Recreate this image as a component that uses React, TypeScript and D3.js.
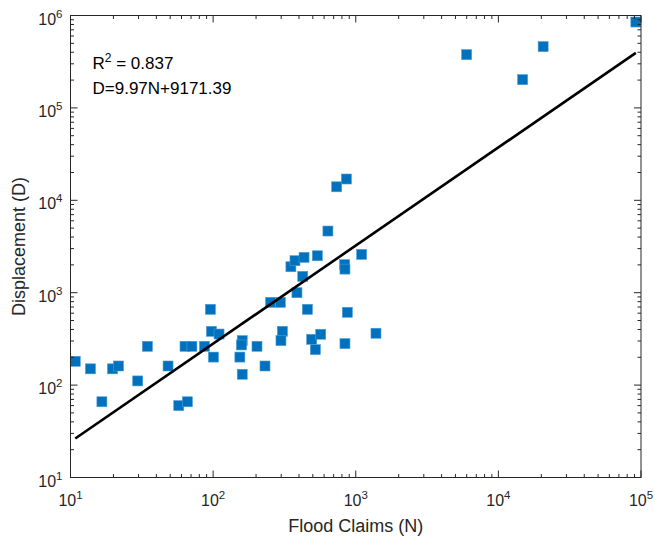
import React from 'react';
import * as d3 from 'd3';

// flood claims (N) and displacement (D)
const claims = [
    10.8, 13.8, 16.6, 19.7, 21.7, 29.6, 34.6, 48.3, 57.4, 66, 63.5, 71, 86.9, 95.7, 97.3, 110, 100.5,
    154, 160, 158, 203, 160, 231, 253, 296, 306, 299, 387, 351, 375, 434, 425, 538, 458, 491, 568, 521,
    638, 735, 860, 836, 840, 873, 840, 1100, 1386, 5990, 14800, 20600, 92000
];
const displacement = [
    181, 150, 66, 150, 161, 111, 263, 161, 60, 66, 263, 263, 263, 661, 382, 357, 201,
    201, 303, 272, 263, 131, 161, 787, 787, 382, 303, 1000, 1910, 2220, 2415, 1503, 2510, 661, 313, 355, 242,
    4650, 14000, 17000, 2010, 1800, 614, 281, 2600, 364, 377000, 202000, 460000, 850000
];

const xExponents = [1, 2, 3, 4, 5];
const yExponents = [1, 2, 3, 4, 5, 6];

// fitted line as drawn (power law in log-log space)
const fitA = 2.11;
const fitB = 1.062;

const rSquared = '0.837';
const equation = 'D=9.97N+9171.39';

const font = 'Liberation Sans, Arial, Helvetica, sans-serif';
const axisColor = '#262626';

export default function App() {

    const width = 655, height = 540;
    const margin = { top: 15.5, right: 14, bottom: 62.5, left: 70.5 };
    const plotW = width - margin.left - margin.right;
    const plotH = height - margin.top - margin.bottom;

    const xScale = d3.scaleLog().domain([10, 1e5]).range([0, plotW]);
    const yScale = d3.scaleLog().domain([10, 1e6]).range([plotH, 0]);

    const minors = (exps: number[]) => {
        const out: number[] = [];
        exps.slice(0, -1).forEach(e => {
            for (let m = 2; m <= 9; m++) out.push(m * Math.pow(10, e));
        });
        return out;
    };
    const xMinor = minors(xExponents);
    const yMinor = minors(yExponents);

    const points = claims.map((n, i) => ({ n, d: displacement[i] }));
    const nExtent = d3.extent(claims) as [number, number];
    const fitData = nExtent.map(n => ({ n, d: fitA * Math.pow(n, fitB) }));
    const line = d3.line<{ n: number, d: number }>()
        .x(p => xScale(p.n))
        .y(p => yScale(p.d));

    const majorLen = 7, minorLen = 3.5;
    const markerSize = 10;

    return <div>
        <svg width={width} height={height} style={{ position: 'absolute', left: 0, top: 0, background: '#fff' }}
            fontFamily={font}>
            <g transform={"translate(" + margin.left + "," + margin.top + ")"}>

                {points.map((p, i) =>
                    <rect key={i}
                        x={xScale(p.n) - markerSize / 2}
                        y={yScale(p.d) - markerSize / 2}
                        width={markerSize} height={markerSize}
                        fill="#0072BD" stroke="#4d9bd6" strokeWidth={0.6} />
                )}

                <path d={line(fitData) || ''} fill="none" stroke="#000" strokeWidth={2.6} />

                {/* box */}
                <rect x={0} y={0} width={plotW} height={plotH} fill="none" stroke={axisColor} strokeWidth={1} />

                {/* x ticks, bottom and top */}
                {xExponents.map(e => {
                    const x = xScale(Math.pow(10, e));
                    return <g key={'xM' + e} stroke={axisColor}>
                        <line x1={x} x2={x} y1={plotH} y2={plotH - majorLen} />
                        <line x1={x} x2={x} y1={0} y2={majorLen} />
                    </g>
                })}
                {xMinor.map(v => {
                    const x = xScale(v);
                    return <g key={'xm' + v} stroke={axisColor}>
                        <line x1={x} x2={x} y1={plotH} y2={plotH - minorLen} />
                        <line x1={x} x2={x} y1={0} y2={minorLen} />
                    </g>
                })}

                {/* y ticks, left and right */}
                {yExponents.map(e => {
                    const y = yScale(Math.pow(10, e));
                    return <g key={'yM' + e} stroke={axisColor}>
                        <line x1={0} x2={majorLen} y1={y} y2={y} />
                        <line x1={plotW} x2={plotW - majorLen} y1={y} y2={y} />
                    </g>
                })}
                {yMinor.map(v => {
                    const y = yScale(v);
                    return <g key={'ym' + v} stroke={axisColor}>
                        <line x1={0} x2={minorLen} y1={y} y2={y} />
                        <line x1={plotW} x2={plotW - minorLen} y1={y} y2={y} />
                    </g>
                })}

                {/* tick labels */}
                {xExponents.map(e =>
                    <text key={'xl' + e} x={xScale(Math.pow(10, e))} y={plotH + 28.5}
                        textAnchor="middle" fontSize={16} fill={axisColor}>
                        10<tspan dy={-7} fontSize={11.5}>{e}</tspan>
                    </text>
                )}
                {yExponents.map(e =>
                    <text key={'yl' + e} x={-8} y={yScale(Math.pow(10, e)) + 9}
                        textAnchor="end" fontSize={16} fill={axisColor}>
                        10<tspan dy={-7} fontSize={11.5}>{e}</tspan>
                    </text>
                )}

                {/* annotation */}
                <text x={22} y={53.5} fontSize={17} fill="#000">
                    R<tspan dy={-7} fontSize={12}>2</tspan><tspan dy={7}>{' = ' + rSquared}</tspan>
                </text>
                <text x={22} y={78.5} fontSize={17} fill="#000">{equation}</text>

                {/* axis labels */}
                <text x={plotW / 2} y={plotH + 54} textAnchor="middle" fontSize={18} fill={axisColor}>
                    Flood Claims (N)
                </text>
                <text transform={"translate(" + (-margin.left + 25) + "," + (plotH / 2) + ") rotate(-90)"}
                    textAnchor="middle" fontSize={18} fill={axisColor}>
                    Displacement (D)
                </text>
            </g>
        </svg>
    </div>
}
